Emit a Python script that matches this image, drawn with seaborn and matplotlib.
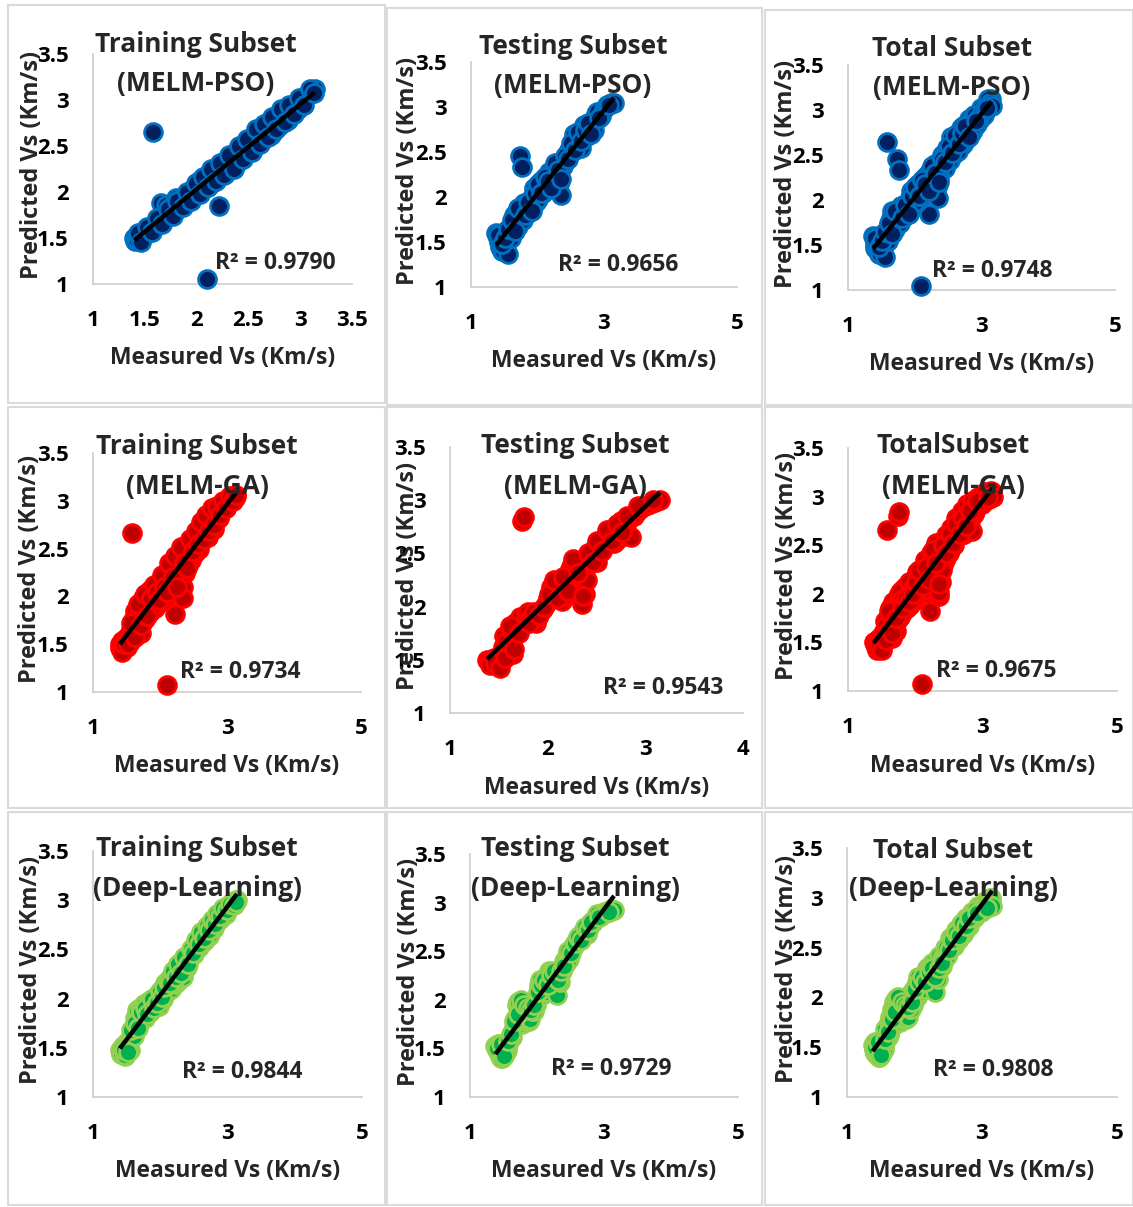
import numpy as np
import pandas as pd
import matplotlib
matplotlib.use("Agg")
import matplotlib.pyplot as plt
from matplotlib.patches import Rectangle
import seaborn as sns

# ---------------- data ----------------
train_measured = [1.40, 1.41, 1.42, 1.44, 1.45, 1.47, 1.48, 1.50, 1.51, 1.53, 1.55, 1.56, 1.58, 1.60,
                  1.61, 1.63, 1.65, 1.66, 1.68, 1.70, 1.71, 1.73, 1.75, 1.76, 1.78, 1.80, 1.82, 1.83,
                  1.85, 1.86, 1.88, 1.90, 1.92, 1.94, 1.96, 1.98, 2.00, 2.02, 2.04, 2.05, 2.07, 2.08,
                  2.10, 2.12, 2.13, 2.15, 2.16, 2.18, 2.20, 2.22, 2.24, 2.25, 2.27, 2.28, 2.30, 2.32,
                  2.34, 2.35, 2.37, 2.38, 2.40, 2.42, 2.44, 2.46, 2.48, 2.50, 2.52, 2.54, 2.56, 2.58,
                  2.60, 2.62, 2.64, 2.66, 2.68, 2.70, 2.72, 2.74, 2.76, 2.78, 2.80, 2.82, 2.84, 2.86,
                  2.88, 2.90, 2.93, 2.95, 2.98, 3.00, 3.03, 3.05, 3.08, 3.10, 3.12, 3.14,
                  1.43, 1.46, 1.52, 1.57, 1.62, 1.67, 1.72, 1.77, 1.81, 1.87, 1.91, 1.95, 1.99, 2.03,
                  2.06, 2.11, 2.14, 2.19, 2.23, 2.26, 2.31, 2.36, 2.41, 2.45, 2.49, 2.53, 2.57, 2.61,
                  2.65, 2.69, 2.73, 2.77, 2.81, 2.85, 2.89, 2.94, 2.99, 3.04, 3.09, 3.13]
train_pred_pso = [1.50, 1.47, 1.48, 1.52, 1.55, 1.50, 1.52, 1.58, 1.54, 1.57, 1.62, 1.59, 2.65, 1.63,
                  1.66, 1.66, 1.70, 1.88, 1.72, 1.86, 1.76, 1.75, 1.84, 1.80, 1.78, 1.93, 1.86, 1.85,
                  1.90, 1.90, 1.95, 1.92, 1.98, 1.95, 2.02, 2.05, 2.00, 2.12, 2.06, 2.02, 2.14, 2.10,
                  1.05, 2.16, 2.18, 2.10, 2.12, 2.22, 2.22, 1.85, 2.28, 2.26, 2.20, 2.22, 2.32, 2.35,
                  2.26, 2.30, 2.40, 2.36, 2.33, 2.45, 2.40, 2.42, 2.52, 2.52, 2.46, 2.48, 2.58, 2.62,
                  2.56, 2.66, 2.70, 2.60, 2.75, 2.72, 2.62, 2.65, 2.80, 2.82, 2.72, 2.78, 2.88, 2.88,
                  2.78, 2.83, 2.92, 2.93, 2.90, 2.97, 3.00, 3.02, 3.05, 3.08, 3.10, 3.12,
                  1.55, 1.46, 1.62, 1.56, 1.72, 1.65, 1.82, 1.74, 1.90, 1.84, 2.00, 1.90, 2.10, 1.98,
                  2.16, 2.05, 2.25, 2.12, 2.32, 2.18, 2.40, 2.25, 2.50, 2.36, 2.58, 2.44, 2.68, 2.52,
                  2.74, 2.60, 2.82, 2.68, 2.90, 2.76, 2.95, 2.85, 3.02, 2.95, 3.12, 3.08]
train_pred_ga = [1.50, 1.46, 1.48, 1.53, 1.52, 1.49, 1.55, 1.47, 1.58, 1.60, 1.52, 1.66, 2.66, 1.75,
                 1.68, 1.85, 1.78, 1.65, 1.80, 1.90, 1.62, 1.72, 1.98, 1.95, 1.76, 1.88, 2.05, 1.97,
                 1.84, 2.08, 1.95, 2.02, 1.88, 1.92, 2.10, 2.15, 2.00, 2.05, 2.18, 1.95, 2.10, 2.20,
                 1.07, 2.00, 2.12, 2.25, 2.28, 2.08, 2.05, 1.82, 2.30, 2.35, 2.15, 2.20, 2.40, 2.45,
                 2.10, 1.98, 2.25, 2.30, 2.48, 2.50, 2.35, 2.38, 2.58, 2.55, 2.45, 2.62, 2.52, 2.50,
                 2.68, 2.72, 2.60, 2.65, 2.76, 2.80, 2.62, 2.70, 2.84, 2.85, 2.70, 2.78, 2.90, 2.90,
                 2.82, 2.88, 2.95, 2.95, 2.92, 2.97, 3.00, 3.02, 3.04, 3.05, 3.03, 3.05,
                 1.42, 1.50, 1.50, 1.72, 1.58, 1.92, 1.70, 2.02, 1.80, 1.98, 2.12, 2.05, 1.96, 2.22,
                 2.10, 2.05, 2.35, 2.20, 2.42, 2.10, 2.52, 2.35, 2.30, 2.60, 2.48, 2.68, 2.55, 2.78,
                 2.60, 2.85, 2.68, 2.92, 2.75, 2.95, 2.85, 3.00, 2.92, 3.05, 3.00, 3.06]
train_pred_dl = [1.48, 1.44, 1.45, 1.50, 1.52, 1.42, 1.43, 1.50, 1.56, 1.55, 1.48, 1.60, 1.65, 1.70,
                 1.62, 1.80, 1.72, 1.88, 1.75, 1.90, 1.84, 1.82, 1.92, 1.95, 1.80, 1.88, 1.96, 1.98,
                 1.86, 1.92, 2.00, 1.98, 1.94, 2.02, 2.05, 1.92, 2.06, 2.10, 2.00, 2.05, 2.16, 2.15,
                 2.12, 2.08, 2.20, 2.14, 2.10, 2.24, 2.25, 2.15, 2.28, 2.32, 2.18, 2.20, 2.30, 2.35,
                 2.22, 2.28, 2.40, 2.42, 2.32, 2.38, 2.45, 2.48, 2.52, 2.45, 2.50, 2.55, 2.58, 2.52,
                 2.62, 2.65, 2.58, 2.60, 2.68, 2.70, 2.64, 2.66, 2.74, 2.75, 2.72, 2.78, 2.82, 2.85,
                 2.80, 2.82, 2.88, 2.90, 2.86, 2.92, 2.95, 2.97, 2.96, 2.98, 3.00, 3.00,
                 1.50, 1.48, 1.46, 1.68, 1.75, 1.70, 1.86, 1.90, 1.84, 2.00, 1.90, 1.96, 2.08, 2.02,
                 2.12, 2.18, 2.16, 2.28, 2.22, 2.35, 2.26, 2.42, 2.35, 2.50, 2.46, 2.60, 2.55, 2.68,
                 2.62, 2.74, 2.70, 2.80, 2.76, 2.86, 2.84, 2.92, 2.90, 2.96, 2.95, 2.98]

test_measured = [1.38, 1.40, 1.42, 1.43, 1.45, 1.47, 1.48, 1.50, 1.52, 1.54, 1.55, 1.57, 1.60, 1.62,
                 1.65, 1.67, 1.70, 1.72, 1.74, 1.76, 1.78, 1.80, 1.83, 1.85, 1.88, 1.90, 1.93, 1.95,
                 1.98, 2.00, 2.03, 2.05, 2.08, 2.10, 2.13, 2.15, 2.18, 2.20, 2.23, 2.25, 2.28, 2.30,
                 2.33, 2.35, 2.38, 2.40, 2.43, 2.45, 2.48, 2.50, 2.53, 2.55, 2.58, 2.60, 2.63, 2.65,
                 2.68, 2.70, 2.73, 2.75, 2.78, 2.80, 2.83, 2.85, 2.88, 2.90, 2.95, 3.00, 3.05, 3.10,
                 3.15,
                 1.41, 1.46, 1.51, 1.56, 1.61, 1.66, 1.71, 1.81, 1.86, 1.91, 1.96, 2.01, 2.06, 2.11,
                 2.16, 2.21, 2.26, 2.31, 2.36, 2.41, 2.46, 2.51, 2.56, 2.61, 2.66, 2.71, 2.76, 2.81,
                 2.92, 3.08]
test_pred_pso = [1.60, 1.55, 1.50, 1.45, 1.55, 1.40, 1.40, 1.48, 1.62, 1.50, 1.37, 1.55, 1.55, 1.70,
                 1.80, 1.72, 1.68, 1.85, 2.45, 2.33, 1.75, 1.93, 1.85, 1.82, 1.90, 1.88, 2.02, 2.10,
                 1.95, 1.98, 2.12, 2.18, 2.05, 2.08, 2.20, 2.12, 2.28, 2.25, 2.18, 2.32, 2.25, 2.20,
                 2.15, 2.02, 2.35, 2.38, 2.45, 2.48, 2.52, 2.50, 2.62, 2.70, 2.55, 2.62, 2.68, 2.55,
                 2.75, 2.80, 2.70, 2.68, 2.72, 2.82, 2.78, 2.75, 2.92, 2.95, 2.90, 2.98, 3.02, 3.05,
                 3.05,
                 1.58, 1.48, 1.55, 1.65, 1.75, 1.62, 1.88, 1.80, 1.95, 1.85, 2.05, 2.15, 2.05, 2.22,
                 2.18, 2.10, 2.38, 2.30, 2.20, 2.45, 2.42, 2.60, 2.52, 2.72, 2.62, 2.75, 2.82, 2.70,
                 2.88, 3.02]
test_pred_ga = [1.50, 1.48, 1.48, 1.46, 1.52, 1.50, 1.45, 1.44, 1.50, 1.62, 1.72, 1.68, 1.62, 1.78,
                1.55, 1.85, 1.85, 1.90, 2.80, 2.84, 1.92, 1.95, 1.90, 1.88, 1.85, 1.90, 1.96, 1.98,
                2.02, 2.08, 2.18, 2.20, 2.12, 2.15, 2.22, 2.05, 2.10, 2.30, 2.35, 2.40, 2.18, 2.20,
                2.28, 2.02, 2.12, 2.25, 2.40, 2.48, 2.55, 2.42, 2.50, 2.58, 2.62, 2.65, 2.72, 2.72,
                2.60, 2.62, 2.75, 2.80, 2.66, 2.72, 2.82, 2.65, 2.85, 2.88, 2.92, 2.95, 2.96, 2.98,
                3.00,
                1.45, 1.47, 1.42, 1.52, 1.82, 1.60, 1.75, 1.85, 1.95, 1.92, 2.00, 2.12, 2.25, 2.08,
                2.28, 2.15, 2.45, 2.32, 2.10, 2.50, 2.42, 2.62, 2.52, 2.72, 2.62, 2.78, 2.70, 2.85,
                2.95, 3.00]
test_pred_dl = [1.52, 1.48, 1.55, 1.45, 1.42, 1.40, 1.40, 1.50, 1.50, 1.46, 1.48, 1.55, 1.60, 1.62,
                1.72, 1.80, 1.95, 1.98, 1.90, 2.00, 1.75, 1.78, 1.82, 1.85, 1.78, 1.80, 1.88, 1.88,
                1.95, 2.00, 2.15, 2.20, 2.05, 2.12, 2.18, 2.08, 2.30, 2.28, 2.22, 2.22, 2.15, 2.05,
                2.20, 2.18, 2.30, 2.40, 2.38, 2.45, 2.42, 2.50, 2.55, 2.55, 2.58, 2.62, 2.66, 2.68,
                2.70, 2.72, 2.68, 2.68, 2.75, 2.78, 2.80, 2.82, 2.85, 2.88, 2.86, 2.90, 2.90, 2.93,
                2.92,
                1.50, 1.55, 1.42, 1.58, 1.65, 1.78, 1.85, 1.95, 1.92, 1.90, 1.95, 2.08, 2.15, 2.20,
                2.15, 2.25, 2.30, 2.20, 2.30, 2.35, 2.50, 2.48, 2.58, 2.65, 2.62, 2.75, 2.72, 2.80,
                2.85, 2.90]

titles_line1 = ["Training Subset", "Testing Subset", "Total Subset",
                "Training Subset", "Testing Subset", "TotalSubset",
                "Training Subset", "Testing Subset", "Total Subset"]
titles_line2 = ["(MELM-PSO)"] * 3 + ["(MELM-GA)"] * 3 + ["(Deep-Learning)"] * 3
r2_labels = ["R² = 0.9790", "R² = 0.9656", "R² = 0.9748",
             "R² = 0.9734", "R² = 0.9543", "R² = 0.9675",
             "R² = 0.9844", "R² = 0.9729", "R² = 0.9808"]
x_label = "Measured Vs (Km/s)"
y_label = "Predicted Vs (Km/s)"

# ---------------- panel assembly ----------------
panels = [
    (train_measured, train_pred_pso),
    (test_measured, test_pred_pso),
    (train_measured + test_measured, train_pred_pso + test_pred_pso),
    (train_measured, train_pred_ga),
    (test_measured, test_pred_ga),
    (train_measured + test_measured, train_pred_ga + test_pred_ga),
    (train_measured, train_pred_dl),
    (test_measured, test_pred_dl),
    (train_measured + test_measured, train_pred_dl + test_pred_dl),
]
face_colors = ["#002060"] * 3 + ["#C00000"] * 3 + ["#00B050"] * 3
edge_colors = ["#0070C0"] * 3 + ["#FF0000"] * 3 + ["#92D050"] * 3

# ---------------- layout (pixels) ----------------
W, H = 1133, 1207
boxes = [(93, 54, 352, 284), (471, 62, 737, 287), (848, 65, 1115, 290),
         (93, 453, 361, 692), (450, 447, 743, 713), (848, 448, 1117, 691),
         (93, 851, 362, 1097), (470, 854, 738, 1097), (847, 848, 1117, 1097)]
xlims = [(1, 3.5, 0.5), (1, 5, 2), (1, 5, 2),
         (1, 5, 2), (1, 4, 1), (1, 5, 2),
         (1, 5, 2), (1, 5, 2), (1, 5, 2)]
title_pos = [(196, 44, 83), (573, 46, 86), (952, 49, 88),
             (197, 447, 487), (575, 446, 486), (953, 446, 486),
             (197, 849, 889), (575, 849, 889), (953, 850, 889)]
r2_pos = [(215, 263), (558, 265), (932, 271),
          (180, 672), (603, 688), (936, 671),
          (182, 1072), (551, 1069), (933, 1070)]
xlabel_y = [358, 361, 364, 766, 788, 766, 1171, 1171, 1171]
ylabel_x = [32, 408, 786, 30, 408, 787, 31, 409, 787]
cells = [(8, 5, 385, 403), (387, 8, 762, 405), (765, 10, 1133, 405),
         (8, 407, 385, 808), (387, 407, 762, 808), (765, 407, 1133, 808),
         (8, 812, 385, 1205), (387, 812, 762, 1205), (765, 812, 1133, 1205)]

sns.set_style("white")
plt.rcParams['font.family'] = ['Open Sans', 'DejaVu Sans']
plt.rcParams['font.weight'] = 'bold'

fig = plt.figure(figsize=(W / 100, H / 100), dpi=100)


def fx(x):
    return x / W


def fy(y):
    return 1 - y / H


grid_col = "#D0D0D0"
for (x0, y0, x1, y1) in cells:
    fig.add_artist(Rectangle((fx(x0), fy(y1)), fx(x1) - fx(x0), fy(y0) - fy(y1),
                             transform=fig.transFigure, fill=False,
                             edgecolor="#DADADA", linewidth=1.5, zorder=0))

for i, (mx, pv) in enumerate(panels):
    x0, y0, x1, y1 = boxes[i]
    ax = fig.add_axes([fx(x0), fy(y1), fx(x1) - fx(x0), fy(y0) - fy(y1)])
    ax.set_facecolor("none")
    df = pd.DataFrame({"measured": mx, "predicted": pv})
    sns.scatterplot(data=df, x="measured", y="predicted", ax=ax, s=165,
                    color=face_colors[i], edgecolor=edge_colors[i], linewidth=2.0,
                    legend=False, clip_on=False, zorder=3)
    sns.regplot(data=df, x="measured", y="predicted", ax=ax, scatter=False, ci=None,
                line_kws=dict(color="black", linewidth=3.2, zorder=4, solid_capstyle="butt"))
    lo, hi, step = xlims[i]
    ax.set_xlim(lo, hi)
    ax.set_ylim(1, 3.5)
    ax.set_xticks(np.arange(lo, hi + step / 2, step))
    ax.set_yticks(np.arange(1, 3.5 + 0.25, 0.5))
    ax.set_xticklabels([f"{v:g}" for v in np.arange(lo, hi + step / 2, step)])
    ax.set_yticklabels([f"{v:g}" for v in np.arange(1, 3.5 + 0.25, 0.5)])
    for s in ["top", "right"]:
        ax.spines[s].set_visible(False)
    for s in ["left", "bottom"]:
        ax.spines[s].set_color(grid_col)
        ax.spines[s].set_linewidth(1.3)
    ax.tick_params(axis="both", direction="out", length=6.5, width=1.3, color=grid_col,
                   labelsize=16, labelcolor="black")
    ax.tick_params(axis="x", pad=12)
    ax.tick_params(axis="y", pad=11)
    for lab in ax.get_xticklabels() + ax.get_yticklabels():
        lab.set_fontweight("bold")

    ax.set_xlabel(x_label, fontsize=16.5, fontweight="bold")
    ax.xaxis.label.set_verticalalignment("center")
    ax.xaxis.set_label_coords(fx((x0 + x1) / 2), fy(xlabel_y[i]), transform=fig.transFigure)
    ax.set_ylabel(y_label, fontsize=17, fontweight="bold")
    ax.yaxis.label.set_verticalalignment("center")
    ax.yaxis.set_label_coords(fx(ylabel_x[i]), fy((y0 + y1) / 2 - 4), transform=fig.transFigure)

    tx, ty1, ty2 = title_pos[i]
    fig.text(fx(tx), fy(ty1), titles_line1[i], ha="center", va="center",
             fontsize=19, fontweight="bold", zorder=10)
    fig.text(fx(tx), fy(ty2), titles_line2[i], ha="center", va="center",
             fontsize=19, fontweight="bold", zorder=10)
    rx, ry = r2_pos[i]
    fig.text(fx(rx), fy(ry), r2_labels[i], ha="left", va="center",
             fontsize=16.5, fontweight="bold", zorder=10)

fig.savefig("out.png", dpi=100, facecolor="white")
